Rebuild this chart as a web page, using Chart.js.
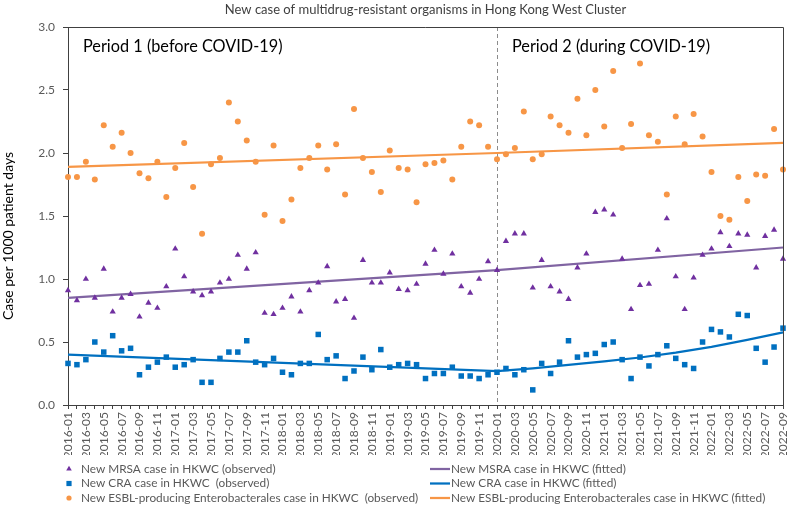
<!DOCTYPE html>
<html><head><meta charset="utf-8">
<script src="https://cdn.jsdelivr.net/npm/chart.js@4.4.1/dist/chart.umd.min.js"></script>
<style>html,body{margin:0;padding:0;background:#fff}#wrap{width:789px;height:505px;position:relative}</style>
</head><body><div id="wrap"><canvas id="c"></canvas></div>
<script>
const months = ['2016-01','2016-02','2016-03','2016-04','2016-05','2016-06','2016-07','2016-08','2016-09','2016-10','2016-11','2016-12',
'2017-01','2017-02','2017-03','2017-04','2017-05','2017-06','2017-07','2017-08','2017-09','2017-10','2017-11','2017-12',
'2018-01','2018-02','2018-03','2018-04','2018-05','2018-06','2018-07','2018-08','2018-09','2018-10','2018-11','2018-12',
'2019-01','2019-02','2019-03','2019-04','2019-05','2019-06','2019-07','2019-08','2019-09','2019-10','2019-11','2019-12',
'2020-01','2020-02','2020-03','2020-04','2020-05','2020-06','2020-07','2020-08','2020-09','2020-10','2020-11','2020-12',
'2021-01','2021-02','2021-03','2021-04','2021-05','2021-06','2021-07','2021-08','2021-09','2021-10','2021-11','2021-12',
'2022-01','2022-02','2022-03','2022-04','2022-05','2022-06','2022-07','2022-08','2022-09'];

const mrsaObserved = [0.91,0.83,1.00,0.85,1.08,0.74,0.85,0.88,0.70,0.81,0.77,0.94,
1.24,1.02,0.90,0.87,0.90,0.97,1.00,1.19,1.08,1.21,0.73,0.72,
0.77,0.86,0.74,0.91,0.97,1.10,0.82,0.84,0.69,1.15,0.97,0.97,
1.05,0.92,0.91,0.96,1.12,1.23,1.04,1.20,0.94,0.89,1.00,1.14,
1.07,1.30,1.36,1.36,0.93,1.15,0.94,0.90,0.84,1.09,1.20,1.53,
1.55,1.51,1.16,0.76,0.95,0.96,1.23,1.48,1.02,0.76,1.01,1.19,
1.24,1.37,1.26,1.36,1.35,1.09,1.34,1.39,1.16];

const craObserved = [0.33,0.32,0.36,0.50,0.42,0.55,0.43,0.45,0.24,0.30,0.34,0.38,
0.30,0.32,0.36,0.18,0.18,0.37,0.42,0.42,0.51,0.34,0.32,0.37,
0.26,0.24,0.33,0.33,0.56,0.36,0.39,0.21,0.27,0.38,0.28,0.44,
0.30,0.32,0.33,0.32,0.21,0.25,0.25,0.30,0.23,0.23,0.21,0.24,
0.26,0.29,0.24,0.28,0.12,0.33,0.25,0.34,0.51,0.38,0.40,0.41,
0.48,0.50,0.36,0.21,0.38,0.31,0.40,0.47,0.37,0.32,0.29,0.50,
0.60,0.58,0.54,0.72,0.71,0.45,0.34,0.46,0.61];

const esblObserved = [1.81,1.81,1.93,1.79,2.22,2.05,2.16,2.00,1.84,1.80,1.93,1.65,
1.88,2.08,1.73,1.36,1.91,1.96,2.40,2.25,2.10,1.93,1.51,2.06,
1.46,1.63,1.88,1.96,2.06,1.87,2.07,1.67,2.35,1.96,1.85,1.69,
2.02,1.88,1.87,1.61,1.91,1.92,1.94,1.79,2.05,2.25,2.22,2.05,
1.95,1.99,2.04,2.33,1.95,1.99,2.29,2.22,2.16,2.43,2.14,2.50,
2.21,2.65,2.04,2.23,2.71,2.14,2.09,1.67,2.29,2.07,2.31,2.13,
1.85,1.50,1.47,1.81,1.62,1.83,1.82,2.19,1.87];

// fitted lines: values read at a few months
const mrsaFitMonths = ['2016-01','2020-01','2022-09'];
const mrsaFitValues = [0.85,1.07,1.25];
const craFitMonths = ['2016-01','2020-01','2020-05','2020-09','2021-01','2021-05','2021-09','2022-01','2022-05','2022-09'];
const craFitValues = [0.40,0.268,0.29,0.318,0.346,0.377,0.415,0.462,0.517,0.577];
const esblFitMonths = ['2016-01','2020-01','2022-09'];
const esblFitValues = [1.89,2.00,2.08];

const splitMonth = '2020-01';
const yTicks = [0,0.5,1.0,1.5,2.0,2.5,3.0];

const titleText = 'New case of multidrug-resistant organisms in Hong Kong West Cluster';
const yTitle = 'Case per 1000 patient days';
const period1 = 'Period 1 (before COVID-19)';
const period2 = 'Period 2 (during COVID-19)';

const C_MRSA = '#7030A0', C_MRSA_FIT = '#8064A2';
const C_CRA = '#0070C0', C_CRA_FIT = '#0070C0';
const C_ESBL = '#F79646', C_ESBL_FIT = '#F79646';
const FONT = 'Lato, "Liberation Sans", sans-serif';

const pts = (ms, vs) => ms.map((m, i) => ({x: m, y: vs[i]}));

const datasets = [
  {label:'New MRSA case in HKWC (observed)', data: mrsaObserved, showLine:false, pointStyle:'triangle', pointRadius:3.6,
   pointBackgroundColor:C_MRSA, pointBorderColor:C_MRSA, pointBorderWidth:0, borderColor:C_MRSA, backgroundColor:C_MRSA, order:1, kind:'tri'},
  {label:'New MSRA case in HKWC (fitted)', data: pts(mrsaFitMonths, mrsaFitValues), pointRadius:0, borderColor:C_MRSA_FIT, borderWidth:2.25, tension:0, order:2, kind:'line'},
  {label:'New CRA case in HKWC  (observed)', data: craObserved, showLine:false, pointStyle:'rect', pointRadius:3.9,
   pointBackgroundColor:C_CRA, pointBorderColor:C_CRA, pointBorderWidth:0, borderColor:C_CRA, backgroundColor:C_CRA, order:1, kind:'rect'},
  {label:'New CRA case in HKWC (fitted)', data: pts(craFitMonths, craFitValues), pointRadius:0, borderColor:C_CRA_FIT, borderWidth:2.25, tension:0, order:2, kind:'line'},
  {label:'New ESBL-producing Enterobacterales case in HKWC  (observed)', data: esblObserved, showLine:false, pointStyle:'circle', pointRadius:3,
   pointBackgroundColor:C_ESBL, pointBorderColor:C_ESBL, pointBorderWidth:0, borderColor:C_ESBL, backgroundColor:C_ESBL, order:1, kind:'circle'},
  {label:'New ESBL-producing Enterobacterales case in HKWC (fitted)', data: pts(esblFitMonths, esblFitValues), pointRadius:0, borderColor:C_ESBL_FIT, borderWidth:2.25, tension:0, order:2, kind:'line'}
];

function drawMarker(ctx, kind, x, y, color, r) {
  ctx.fillStyle = color;
  ctx.beginPath();
  if (kind === 'tri') {
    ctx.moveTo(x, y - r); ctx.lineTo(x + r*0.866, y + r*0.5); ctx.lineTo(x - r*0.866, y + r*0.5); ctx.closePath();
  } else if (kind === 'rect') {
    ctx.rect(x - r, y - r, 2*r, 2*r);
  } else {
    ctx.arc(x, y, r, 0, Math.PI*2);
  }
  ctx.fill();
}

const overlay = {
  id: 'overlay',
  beforeDatasetsDraw(chart) {
    const {ctx, chartArea: a, scales: {x}} = chart;
    const xd = Math.round(x.getPixelForValue(months.indexOf(splitMonth))) + 0.5;
    ctx.save();
    ctx.strokeStyle = '#8c8c8c'; ctx.lineWidth = 1; ctx.setLineDash([4,3]);
    ctx.beginPath(); ctx.moveTo(xd, a.top); ctx.lineTo(xd, a.bottom); ctx.stroke();
    ctx.restore();
  },
  afterDraw(chart) {
    const {ctx, chartArea: a, scales: {x}} = chart;
    ctx.save();
    // top & right border
    ctx.strokeStyle = '#404040'; ctx.lineWidth = 1;
    ctx.beginPath();
    ctx.moveTo(a.left, Math.round(a.top) + 0.5);
    ctx.lineTo(Math.round(a.right) + 0.5, Math.round(a.top) + 0.5);
    ctx.lineTo(Math.round(a.right) + 0.5, a.bottom);
    ctx.stroke();
    // title
    ctx.fillStyle = '#404040';
    ctx.font = '13px ' + FONT;
    ctx.textAlign = 'center'; ctx.textBaseline = 'middle';
    ctx.fillText(titleText, (a.left + a.right) / 2, 10);
    // period labels
    const xd = x.getPixelForValue(months.indexOf(splitMonth));
    ctx.fillStyle = '#000';
    ctx.font = '16.3px ' + FONT;
    ctx.textAlign = 'left';
    ctx.fillText(period1, a.left + 15, 47);
    ctx.fillText(period2, xd + 15, 47);
    // y title
    ctx.save();
    ctx.translate(8, 236);
    ctx.rotate(-Math.PI/2);
    ctx.fillStyle = '#000';
    ctx.font = '14px ' + FONT;
    ctx.textAlign = 'center'; ctx.textBaseline = 'middle';
    ctx.fillText(yTitle, 0, 0);
    ctx.restore();
    // legend
    ctx.font = '11.8px ' + FONT;
    ctx.textAlign = 'left'; ctx.textBaseline = 'middle';
    const rowsY = [469, 483.5, 498];
    chart.data.datasets.forEach((d, i) => {
      const row = Math.floor(i / 2), col = i % 2;
      const yy = rowsY[row];
      if (col === 0) {
        drawMarker(ctx, d.kind, 69, yy, d.pointBackgroundColor, d.kind === 'rect' ? 2.6 : (d.kind === 'tri' ? 3.2 : 2.6));
        ctx.fillStyle = '#595959';
        ctx.fillText(d.label, 81, yy);
      } else {
        ctx.strokeStyle = d.borderColor; ctx.lineWidth = 2.25;
        ctx.beginPath(); ctx.moveTo(430, yy); ctx.lineTo(450, yy); ctx.stroke();
        ctx.fillStyle = '#595959';
        ctx.fillText(d.label, 451, yy);
      }
    });
    ctx.restore();
  }
};

new Chart(document.getElementById('c'), {
  type: 'line',
  data: { labels: months, datasets },
  options: {
    responsive: true, maintainAspectRatio: false, animation: false,
    layout: { padding: { top: 27, right: 6, bottom: 50, left: 0 } },
    plugins: { legend: { display: false }, title: { display: false }, tooltip: { enabled: false } },
    scales: {
      x: {
        type: 'category', offset: false,
        grid: { display: true, drawOnChartArea: false, drawTicks: true, tickLength: 4, color: '#404040', offset: false },
        border: { display: true, color: '#404040', width: 1 },
        ticks: { autoSkip: false, maxRotation: 90, minRotation: 90, padding: 3, color: '#595959',
          font: { family: FONT, size: 12 },
          callback: function(v, i) { return i % 2 === 0 ? this.getLabelForValue(v) : ''; } },
        afterFit: s => { s.height = 50; s.paddingLeft = 0; s.paddingRight = 0; }
      },
      y: {
        min: 0, max: 3,
        afterBuildTicks: s => { s.ticks = yTicks.map(v => ({value: v})); },
        grid: { display: true, drawOnChartArea: false, drawTicks: true, tickLength: 5, color: '#404040' },
        border: { display: true, color: '#404040', width: 1 },
        ticks: { padding: 8, color: '#595959', font: { family: FONT, size: 12 }, callback: v => Number(v).toFixed(1) },
        afterFit: s => { s.width = 68; s.paddingTop = 0; s.paddingBottom = 0; }
      }
    }
  },
  plugins: [overlay]
});
</script></body></html>
